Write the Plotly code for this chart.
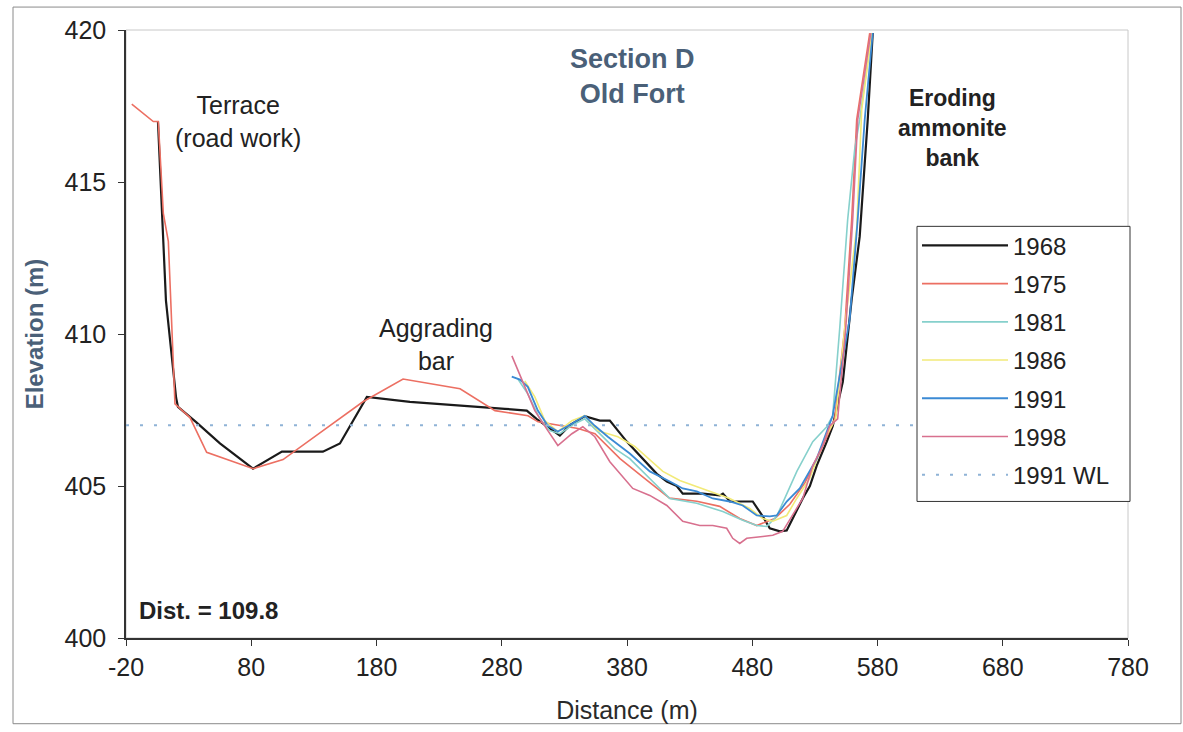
import plotly.graph_objects as go

# ---------------- data ----------------
x_1968 = [5.5, 9.5, 11.9, 20.0, 21.5, 36.0, 55.0, 81.4, 104.5, 137.2, 150.8, 172.3, 206.7, 282.5, 300.0,
          308.0, 318.4, 326.4, 334.3, 346.3, 358.3, 366.3, 379.8, 390.2, 403.8, 411.8, 419.7, 424.5, 440.5,
          454.2, 456.6, 462.2, 480.4, 488.4, 494.0, 502.1, 507.5, 512.3, 520.3, 526.0, 531.5, 539.5, 544.3,
          552.3, 559.4, 565.8, 572.2, 576.2]
y_1968 = [417.0, 413.6, 411.1, 407.9, 407.6, 407.1, 406.4, 405.57, 406.13, 406.13, 406.4, 407.93, 407.77,
          407.54, 407.48, 407.2, 406.9, 406.66, 407.0, 407.3, 407.15, 407.15, 406.46, 406.0, 405.4, 405.15,
          405.0, 404.75, 404.75, 404.69, 404.75, 404.49, 404.49, 404.0, 403.61, 403.51, 403.54, 403.93,
          404.59, 405.0, 405.67, 406.46, 406.98, 408.43, 411.15, 413.21, 417.05, 419.9]

x_1975 = [-15.4, 1.8, 5.8, 9.8, 13.8, 19.1, 31.1, 44.4, 81.6, 105.4, 137.3, 169.2, 201.2, 246.7, 274.6,
          301.0, 309.0, 328.1, 340.9, 354.4, 374.4, 394.0, 414.0, 435.7, 454.0, 470.0, 483.6, 498.0, 510.0,
          522.0, 534.0, 545.8, 553.8, 559.4, 563.4, 573.8]
y_1975 = [417.56, 416.99, 416.99, 413.97, 413.05, 407.7, 407.25, 406.11, 405.57, 405.87, 406.82, 407.77,
          408.52, 408.2, 407.48, 407.31, 407.11, 406.98, 406.89, 406.72, 405.9, 405.25, 404.6, 404.5, 404.33,
          403.93, 403.7, 403.93, 404.4, 405.1, 406.1, 407.2, 410.16, 413.77, 417.05, 419.9]

x_1981 = [292.9, 300.8, 310.4, 318.4, 326.4, 338.3, 346.3, 358.3, 370.3, 382.2, 398.2, 414.2, 435.7, 456.5,
          472.4, 483.6, 491.6, 499.5, 515.6, 528.3, 539.5, 544.2, 549.8, 556.2, 561.8, 565.8, 575.4]
y_1981 = [408.52, 408.03, 407.21, 406.82, 406.72, 407.05, 407.21, 406.72, 406.23, 405.9, 405.25, 404.59,
          404.43, 404.16, 403.87, 403.7, 403.67, 404.0, 405.48, 406.46, 406.95, 407.31, 410.16, 413.77,
          416.07, 417.05, 419.9]

x_1986 = [298.4, 306.4, 314.4, 324.8, 336.0, 346.3, 356.7, 372.7, 386.2, 408.6, 422.1, 435.7, 446.0, 462.0,
          478.0, 488.4, 496.4, 507.5, 515.5, 525.9, 537.9, 546.6, 554.6, 563.4, 567.4, 575.4]
y_1986 = [408.46, 407.93, 407.15, 406.79, 407.15, 407.31, 406.82, 406.62, 406.3, 405.48, 405.18, 404.98,
          404.85, 404.59, 404.26, 403.93, 403.84, 404.03, 404.59, 405.25, 406.56, 407.21, 410.49, 413.5,
          417.38, 419.9]

x_1991 = [288.0, 294.5, 300.8, 308.8, 316.8, 324.8, 336.0, 346.3, 354.3, 364.7, 382.2, 398.2, 414.2, 424.5,
          435.7, 448.5, 462.0, 472.4, 483.6, 494.0, 499.5, 507.5, 517.9, 531.5, 539.5, 544.2, 557.8, 564.2,
          569.8, 576.2]
y_1991 = [408.6, 408.5, 408.26, 407.48, 406.98, 406.79, 407.05, 407.31, 406.98, 406.62, 406.07, 405.48,
          405.15, 404.92, 404.82, 404.59, 404.49, 404.36, 404.03, 404.0, 404.03, 404.49, 404.92, 405.9,
          406.79, 407.31, 410.49, 413.77, 417.05, 419.9]

x_1998 = [288.1, 306.4, 316.8, 324.8, 336.0, 344.7, 354.3, 366.3, 384.6, 398.2, 411.8, 424.5, 438.1, 448.5,
          459.6, 464.4, 470.0, 475.6, 488.4, 496.4, 504.3, 512.3, 520.3, 528.3, 536.3, 541.9, 548.2, 554.6,
          560.2, 564.2, 574.6]
y_1998 = [409.28, 407.48, 406.82, 406.33, 406.72, 406.95, 406.62, 405.8, 404.92, 404.69, 404.36, 403.84,
          403.7, 403.7, 403.61, 403.28, 403.11, 403.28, 403.34, 403.38, 403.51, 404.03, 404.59, 405.67,
          406.33, 406.98, 407.21, 410.16, 413.77, 417.05, 419.9]

x_wl = [-20, 780]
y_wl = [407.0, 407.0]

x_ticks = [-20, 80, 180, 280, 380, 480, 580, 680, 780]
y_ticks = [400, 405, 410, 415, 420]

FONT = "Liberation Sans, Arial, sans-serif"
BLUEGREY = "#4a6078"

series = [
    ("1968", x_1968, y_1968, "#1a1a1a", 2.2, "solid"),
    ("1975", x_1975, y_1975, "#ec6f62", 1.6, "solid"),
    ("1981", x_1981, y_1981, "#86d0cc", 1.6, "solid"),
    ("1986", x_1986, y_1986, "#f2ea78", 1.6, "solid"),
    ("1991", x_1991, y_1991, "#3b8ad4", 1.8, "solid"),
    ("1998", x_1998, y_1998, "#d8708e", 1.6, "solid"),
    ("1991 WL", x_wl, y_wl, "#8fb3d6", 2.0, "3px,11px"),
]

fig = go.Figure()
for name, xs, ys, col, w, dash in series:
    fig.add_trace(go.Scatter(
        x=xs, y=ys, mode="lines", name=name, legendgroup=name,
        line=dict(color=col, width=w, dash=dash),
    ))

W, H = 1183, 732
L, R, T, B = 126, 1128, 30, 640
pw, ph = R - L, B - T


def px(xp):
    return (xp - L) / pw


def py(yp):
    return (B - yp) / ph


fig.update_layout(
    width=W, height=H,
    margin=dict(l=L, r=W - R, t=T, b=H - B, pad=0),
    paper_bgcolor="white", plot_bgcolor="white",
    font=dict(family=FONT, size=24, color="#222222"),
    showlegend=True,
    legend=dict(
        x=px(917), y=py(224), xanchor="left", yanchor="top",
        bgcolor="rgba(0,0,0,0)", borderwidth=0,
        font=dict(family=FONT, size=24, color="#222222"),
        tracegroupgap=4, itemwidth=86,
    ),
    xaxis=dict(
        range=[-20, 780], tickvals=x_ticks, ticktext=[str(v) for v in x_ticks],
        showgrid=False, zeroline=False, showline=True, linecolor="#333333", linewidth=1.5,
        ticks="outside", ticklen=6, tickcolor="#333333", tickwidth=1,
        tickfont=dict(family=FONT, size=25, color="#222222"),
        title=dict(text="Distance (m)", font=dict(family=FONT, size=25, color="#2a2a2a"), standoff=22),
    ),
    yaxis=dict(
        range=[400, 420], tickvals=y_ticks, ticktext=[str(v) for v in y_ticks],
        showgrid=False, zeroline=False, showline=True, linecolor="#333333", linewidth=1.5,
        ticks="outside", ticklen=6, tickcolor="#333333", tickwidth=1,
        ticklabelstandoff=7,
        tickfont=dict(family=FONT, size=25, color="#222222"),
        title=dict(text="<b>Elevation (m)</b>", font=dict(family=FONT, size=24, color=BLUEGREY), standoff=14),
    ),
    shapes=[
        dict(type="rect", xref="paper", yref="paper", x0=0, x1=1, y0=0, y1=1,
             line=dict(color="#c8c8c8", width=1), layer="below"),
        dict(type="rect", xref="paper", yref="paper", x0=px(13), x1=px(1181), y0=py(726), y1=py(7),
             line=dict(color="#8a8a8a", width=1), layer="below"),
        # legend frame (white box covering the water-level line, as in the original)
        dict(type="rect", xref="paper", yref="paper", x0=px(917), x1=px(1130), y0=py(503), y1=py(227),
             line=dict(color="#333333", width=1), fillcolor="white", layer="above"),
    ],
    annotations=[
        dict(x=384, y=418.46, xref="x", yref="y", text="<b>Section D<br>Old Fort</b>", showarrow=False,
             font=dict(family=FONT, size=27, color=BLUEGREY), xanchor="center", yanchor="middle"),
        dict(x=69.4, y=416.98, xref="x", yref="y", text="Terrace<br>(road work)", showarrow=False,
             font=dict(family=FONT, size=25, color="#222222"), xanchor="center", yanchor="middle"),
        dict(x=227.5, y=409.67, xref="x", yref="y", text="Aggrading<br>bar", showarrow=False,
             font=dict(family=FONT, size=25, color="#222222"), xanchor="center", yanchor="middle"),
        dict(x=639.5, y=416.79, xref="x", yref="y", text="<b>Eroding<br>ammonite<br>bank</b>", showarrow=False,
             font=dict(family=FONT, size=23, color="#222222"), xanchor="center", yanchor="middle"),
        dict(x=-11.2, y=400.92, xref="x", yref="y", text="<b>Dist. = 109.8</b>", showarrow=False,
             font=dict(family=FONT, size=24, color="#222222"), xanchor="left", yanchor="middle"),
    ],
)

fig.write_html("out.html", config={"displayModeBar": False},
               post_script="document.body.style.margin='0';document.body.style.overflow='hidden';")
